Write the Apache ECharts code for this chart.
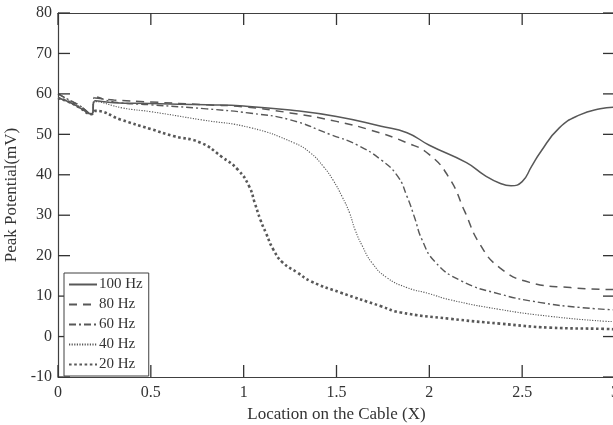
<!DOCTYPE html>
<html>
<head>
<meta charset="utf-8">
<script src="https://cdn.jsdelivr.net/npm/echarts@6/dist/echarts.min.js"></script>
<style>
  html, body { margin: 0; padding: 0; background: #fff; }
  #main { width: 613px; height: 425px; }
</style>
</head>
<body>
<div id="main"></div>
<script>
// readings, X = location on the cable, Y = peak potential (mV)
var x100 = [0, 0.06, 0.12, 0.18, 0.2, 0.3, 0.5, 0.8, 1.0, 1.25, 1.5, 1.74, 1.88, 2.0, 2.2, 2.3, 2.38, 2.44, 2.5, 2.55, 2.6, 2.7, 2.81, 2.92, 3.0];
var y100 = [59, 58, 56.5, 55, 58.3, 57.8, 57.6, 57.3, 57, 56, 54.4, 52, 50.4, 47.3, 43, 39.8, 37.9, 37.3, 38.3, 42, 45.7, 51.6, 54.8, 56.3, 56.7];

var x80 = [0, 0.06, 0.12, 0.18, 0.2, 0.3, 0.5, 0.8, 1.0, 1.25, 1.5, 1.68, 1.88, 2.0, 2.11, 2.19, 2.27, 2.38, 2.54, 2.76, 3.0];
var y80 = [60, 58.5, 57, 55, 59, 58.5, 58, 57.3, 56.8, 55.3, 53.2, 51.1, 47.9, 45, 39, 31, 23, 17, 13.4, 12.1, 11.6];

var x60 = [0, 0.06, 0.12, 0.18, 0.2, 0.3, 0.5, 0.8, 1.04, 1.25, 1.47, 1.61, 1.74, 1.83, 1.88, 1.92, 1.96, 2.03, 2.17, 2.38, 2.6, 2.81, 3.0];
var y60 = [60, 58.5, 57, 55, 59.3, 58, 57.3, 56.3, 55.2, 53.6, 49.9, 47.4, 43.7, 39.6, 34.6, 29.5, 24, 18.5, 13.8, 10.5, 8.4, 7.2, 6.6];

var x40 = [0, 0.06, 0.12, 0.18, 0.2, 0.35, 0.5, 0.77, 1.04, 1.27, 1.36, 1.43, 1.48, 1.53, 1.57, 1.6, 1.64, 1.69, 1.77, 1.88, 2.0, 2.11, 2.38, 2.65, 2.94, 3.0];
var y40 = [59, 58, 56.5, 55, 58.1, 56.5, 55.6, 53.6, 51.6, 47.9, 45.4, 42, 38.8, 34.6, 30.6, 26.4, 22.3, 18.3, 14.6, 12.1, 10.6, 9.1, 6.7, 5, 3.8, 3.7];

var x20 = [0, 0.06, 0.12, 0.18, 0.2, 0.34, 0.5, 0.62, 0.77, 0.88, 0.97, 1.03, 1.06, 1.09, 1.12, 1.16, 1.21, 1.29, 1.36, 1.52, 1.74, 1.84, 2.11, 2.38, 2.65, 2.94, 3.0];
var y20 = [59, 58, 56.5, 55, 55.8, 53.6, 51.3, 49.6, 47.9, 44.5, 41.2, 37.1, 33, 28.9, 25.6, 21.5, 18.3, 15.8, 13.7, 10.9, 7.5, 6, 4.4, 3.2, 2.2, 1.9, 1.8];

var names = ['100 Hz', '80 Hz', '60 Hz', '40 Hz', '20 Hz'];

// tick positions of the box frame
var xTicks = [0, 0.5, 1, 1.5, 2, 2.5, 3];
var yTicks = [-10, 0, 10, 20, 30, 40, 50, 60, 70, 80];

function pairs(xs, ys) {
  var out = [];
  for (var i = 0; i < xs.length; i++) out.push([xs[i], ys[i]]);
  return out;
}

var serif = '"Liberation Serif", "DejaVu Serif", serif';
var ink = '#404040';
var lineCol = '#585858';
var TICK = 12;

var myChart = echarts.init(document.getElementById('main'));

function axLine() { return { show: true, onZero: false, lineStyle: { color: ink, width: 1.2 } }; }

function mkLine(name, data, type, width) {
  return {
    name: name,
    type: 'line',
    data: data,
    symbol: 'none',
    smooth: 0.5,
    lineStyle: { color: lineCol, width: width, type: type, cap: 'butt' },
    itemStyle: { color: lineCol }
  };
}

// inward ticks on all four sides, placed with the axes' own scales
function tickSeries(vals, isX) {
  return {
    type: 'custom',
    silent: true,
    clip: false,
    z: 10,
    data: vals.map(function (v) { return isX ? [v, -10] : [0, v]; }),
    renderItem: function (params, api) {
      var st = { stroke: '#333', lineWidth: 1.3 };
      var a, b;
      if (isX) {
        a = api.coord([api.value(0), -10]);
        b = api.coord([api.value(0), 80]);
        return { type: 'group', children: [
          { type: 'line', shape: { x1: a[0], y1: a[1], x2: a[0], y2: a[1] - TICK }, style: st },
          { type: 'line', shape: { x1: b[0], y1: b[1], x2: b[0], y2: b[1] + TICK }, style: st }
        ] };
      }
      a = api.coord([0, api.value(1)]);
      b = api.coord([3, api.value(1)]);
      return { type: 'group', children: [
        { type: 'line', shape: { x1: a[0], y1: a[1], x2: a[0] + TICK, y2: a[1] }, style: st },
        { type: 'line', shape: { x1: b[0], y1: b[1], x2: b[0] - TICK, y2: b[1] }, style: st }
      ] };
    }
  };
}

var option = {
  backgroundColor: '#fff',
  animation: false,
  grid: { left: 58, top: 13, width: 557, height: 364, outerBoundsMode: 'none', containLabel: false },
  legend: {
    data: names,
    orient: 'vertical',
    left: 64,
    top: 273,
    z: 20,
    padding: [4, 6, 4, 4],
    itemWidth: 28,
    itemHeight: 14,
    itemGap: 5,
    borderColor: ink,
    borderWidth: 1,
    backgroundColor: '#fff',
    itemStyle: { opacity: 0 },
    textStyle: { fontFamily: serif, fontSize: 15, color: '#333', padding: [0, 0, 0, -3] }
  },
  xAxis: [
    {
      type: 'value', position: 'bottom',
      min: 0, max: 3, interval: 0.5,
      name: 'Location on the Cable (X)',
      nameLocation: 'middle',
      nameGap: 26,
      nameTextStyle: { fontFamily: serif, fontSize: 17, color: '#333' },
      axisLine: axLine(),
      axisTick: { show: false },
      splitLine: { show: false },
      axisLabel: { fontFamily: serif, fontSize: 16, color: '#333', margin: 8, showMaxLabel: true }
    },
    {
      type: 'value', position: 'top',
      min: 0, max: 3, interval: 0.5,
      axisLine: axLine(),
      axisTick: { show: false },
      splitLine: { show: false },
      axisLabel: { show: false }
    }
  ],
  yAxis: [
    {
      type: 'value', position: 'left',
      min: -10, max: 80, interval: 10,
      name: 'Peak Potential(mV)',
      nameLocation: 'middle',
      nameGap: 34,
      nameTextStyle: { fontFamily: serif, fontSize: 17, color: '#333' },
      axisLine: axLine(),
      axisTick: { show: false },
      splitLine: { show: false },
      axisLabel: { fontFamily: serif, fontSize: 16, color: '#333', margin: 6 }
    },
    {
      type: 'value', position: 'right',
      min: -10, max: 80, interval: 10,
      axisLine: axLine(),
      axisTick: { show: false },
      splitLine: { show: false },
      axisLabel: { show: false }
    }
  ],
  series: [
    mkLine(names[0], pairs(x100, y100), 'solid', 1.5),
    mkLine(names[1], pairs(x80, y80), [8, 6], 1.5),
    mkLine(names[2], pairs(x60, y60), [7, 3, 2, 3], 1.4),
    mkLine(names[3], pairs(x40, y40), [1.2, 1.4], 1.1),
    mkLine(names[4], pairs(x20, y20), [2.6, 2.6], 2.6),
    tickSeries(xTicks, true),
    tickSeries(yTicks, false)
  ]
};

myChart.setOption(option);
</script>
</body>
</html>
